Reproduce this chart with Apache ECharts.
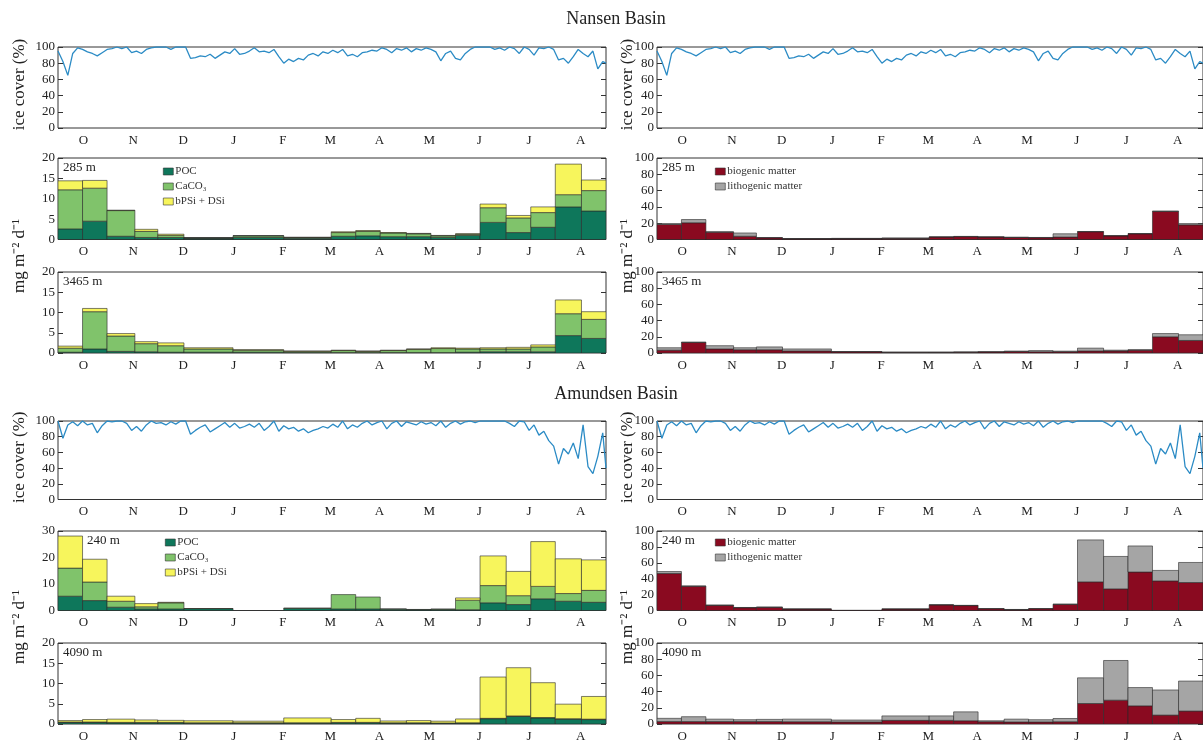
<!DOCTYPE html>
<html>
<head>
<meta charset="utf-8">
<script src="https://cdn.jsdelivr.net/npm/echarts@6/dist/echarts.min.js"></script>
<style>
html, body { margin: 0; padding: 0; background: #fff; }
#chart { width: 1203px; height: 744px; }
</style>
</head>
<body>
<div id="chart"></div>
<script>
// sampling intervals, days since 1 October
const binEdges = [0, 15, 30, 47, 61, 77, 107, 138, 167, 182, 197, 213, 228, 243, 258, 274, 289, 304, 320, 335]
const monthMid = [15.5, 46, 76.5, 107.5, 137.5, 166.5, 196.5, 227, 257.5, 288, 319.5]
const monthLabels = ['O', 'N', 'D', 'J', 'F', 'M', 'A', 'M', 'J', 'J', 'A']

// ice cover (%)
const iceDays = [0, 3, 6, 9, 12, 15, 18, 21, 24, 27, 30, 33, 36, 39, 42, 45, 48, 51, 54, 57,
  60, 63, 66, 69, 72, 75, 78, 81, 84, 87, 90, 93, 96, 99, 102, 105, 108, 111, 114, 117,
  120, 123, 126, 129, 132, 135, 138, 141, 144, 147, 150, 153, 156, 159, 162, 165, 168, 171, 174, 177,
  180, 183, 186, 189, 192, 195, 198, 201, 204, 207, 210, 213, 216, 219, 222, 225, 228, 231, 234, 237,
  240, 243, 246, 249, 252, 255, 258, 261, 264, 267, 270, 273, 276, 279, 282, 285, 288, 291, 294, 297,
  300, 303, 306, 309, 312, 315, 318, 321, 324, 327, 330, 333, 335]
const iceNansen = [95, 82, 65, 92, 99, 97, 94, 92, 89, 93, 97, 98, 100, 98, 100, 93, 95, 92, 97, 99,
  100, 100, 100, 97, 100, 100, 100, 86, 87, 89, 88, 91, 86, 90, 94, 92, 98, 91, 92, 95,
  99, 94, 95, 93, 97, 88, 80, 85, 82, 86, 84, 90, 92, 89, 94, 92, 96, 93, 97, 89,
  91, 88, 93, 94, 96, 95, 99, 97, 93, 98, 96, 99, 94, 98, 96, 99, 97, 94, 83, 92,
  95, 86, 84, 92, 97, 100, 100, 100, 100, 97, 99, 96, 100, 98, 92, 100, 97, 90, 99, 98,
  100, 97, 84, 86, 80, 88, 97, 92, 88, 95, 73, 82, 80]
const iceAmundsen = [100, 78, 95, 99, 94, 100, 95, 97, 85, 94, 100, 99, 100, 100, 97, 88, 93, 87, 95, 100,
  97, 98, 95, 99, 96, 100, 100, 83, 88, 92, 95, 86, 90, 94, 98, 92, 97, 91, 93, 96,
  92, 97, 88, 93, 100, 87, 94, 90, 92, 87, 90, 85, 88, 90, 93, 91, 96, 92, 100, 90,
  95, 92, 97, 100, 95, 98, 100, 90, 97, 100, 93, 99, 97, 95, 99, 96, 98, 94, 100, 92,
  97, 100, 96, 99, 100, 98, 100, 100, 100, 100, 100, 100, 97, 93, 100, 99, 88, 95, 82, 87,
  75, 68, 45, 65, 58, 72, 52, 95, 42, 33, 55, 85, 40]

// mass flux components (mg m-2 d-1), one value per sampling interval
const nansen285POC = [2.6, 4.5, 0.8, 0.5, 0.5, 0.3, 0.5, 0.3, 0.8, 0.9, 0.7, 0.7, 0.5, 1.0, 4.2, 1.7, 3.0, 8.0, 7.0]
const nansen285CaCO3 = [9.6, 8.1, 6.3, 1.5, 0.5, 0.1, 0.4, 0.2, 0.9, 1.1, 0.9, 0.7, 0.4, 0.3, 3.6, 3.6, 3.6, 3.0, 5.0]
const nansen285Si = [2.2, 1.9, 0.1, 0.5, 0.3, 0.05, 0.05, 0.05, 0.2, 0.2, 0.1, 0.1, 0.1, 0.1, 0.9, 0.6, 1.4, 7.5, 2.6]

const nansen3465POC = [0.2, 1.0, 0.4, 0.3, 0.2, 0.2, 0.2, 0.1, 0.1, 0.1, 0.1, 0.1, 0.1, 0.2, 0.3, 0.3, 0.3, 4.3, 3.6]
const nansen3465CaCO3 = [1.0, 9.2, 3.8, 2.0, 1.6, 0.8, 0.5, 0.3, 0.5, 0.3, 0.5, 0.8, 1.0, 0.8, 0.7, 0.7, 1.2, 5.4, 4.7]
const nansen3465Si = [0.5, 0.8, 0.6, 0.5, 0.7, 0.3, 0.1, 0.1, 0.1, 0.1, 0.1, 0.1, 0.2, 0.2, 0.3, 0.4, 0.5, 3.4, 1.9]

const amundsen240POC = [5.4, 3.75, 1.25, 0.6, 0.6, 0.7, 0, 0.8, 0.6, 0.6, 0.5, 0.3, 0.4, 0.3, 2.9, 2.25, 4.4, 3.5, 3.1]
const amundsen240CaCO3 = [10.6, 7.0, 2.25, 0.8, 2.3, 0, 0, 0.1, 5.4, 4.5, 0.1, 0.1, 0.2, 3.6, 6.5, 3.35, 4.7, 2.9, 4.5]
const amundsen240Si = [12.1, 8.6, 1.9, 1.2, 0.2, 0.05, 0, 0, 0, 0, 0, 0, 0, 0.85, 11.2, 9.15, 16.9, 13.1, 11.5]

const amundsen4090POC = [0.4, 0.4, 0.3, 0.3, 0.3, 0.2, 0.2, 0.2, 0.3, 0.3, 0.2, 0.2, 0.2, 0.2, 1.3, 1.9, 1.5, 1.2, 1.1]
const amundsen4090CaCO3 = [0.1, 0.1, 0.1, 0.1, 0.1, 0.1, 0.1, 0.1, 0.1, 0.1, 0.1, 0.1, 0.05, 0.1, 0.1, 0.1, 0.1, 0.1, 0.1]
const amundsen4090Si = [0.35, 0.6, 0.8, 0.6, 0.5, 0.5, 0.4, 1.2, 0.7, 1.0, 0.45, 0.55, 0.45, 0.95, 10.2, 11.9, 8.6, 3.6, 5.6]

const nansen285Bio = [18.5, 20.5, 9, 4, 2, 1, 1.2, 1.5, 3, 3.5, 3, 2.5, 2.2, 3, 9.5, 4.5, 7, 34.5, 18]
const nansen285Litho = [1, 4, 0.4, 4, 0.4, 0.2, 0.2, 0.2, 0.3, 0.3, 0.3, 0.3, 0.3, 4, 0.3, 0.2, 0.3, 0.3, 1.5]
const nansen3465Bio = [3.5, 13, 5, 4, 4, 2.5, 1.5, 0.8, 0.8, 1, 1.3, 1.8, 1.5, 1.5, 2.5, 2.5, 3.5, 20, 15.5]
const nansen3465Litho = [3, 0.5, 4, 2.5, 3.5, 2.5, 0.3, 0.3, 0.3, 0.3, 0.3, 0.6, 1.5, 0.8, 3.5, 1, 0.5, 4, 7]
const amundsen240Bio = [46.5, 30.5, 6.5, 3.5, 4, 1.8, 0.3, 1.8, 7, 6.2, 2.2, 1.1, 2.2, 7.7, 36, 27.2, 48.4, 37.2, 35.2]
const amundsen240Litho = [2.5, 0.3, 0.3, 0.3, 0.3, 0.2, 0, 0.2, 0.3, 0.3, 0.2, 0.2, 0.2, 0.3, 52.8, 40.8, 32.8, 13.2, 25.2]
const amundsen4090Bio = [3, 3, 3, 3, 3, 2.8, 2.5, 4.5, 4.5, 4, 2.8, 2.5, 2.5, 2.8, 25.3, 29.4, 22.4, 11, 16]
const amundsen4090Litho = [4, 6, 3, 2.3, 2.7, 3.2, 2.4, 5.5, 5.5, 11, 1.2, 3.5, 2.8, 4, 31.7, 49, 22.6, 31, 37]

const SERIF = '"Liberation Serif", "Times New Roman", serif'
const colors = {
  POC: '#0e775b',
  CaCO3: '#80c36b',
  Si: '#f7f55c',
  bio: '#8a0a20',
  litho: '#a5a5a5',
  ice: '#2b8bc5'
}
const names = {
  POC: 'POC',
  CaCO3: 'CaCO₃',
  Si: 'bPSi + DSi',
  bio: 'biogenic matter',
  litho: 'lithogenic matter'
}

// panel layout
const leftX = 58
const rightX = 657
const plotW = 548
const rows = [
  { top: 47, height: 81 },
  { top: 158, height: 81.5 },
  { top: 272, height: 81 },
  { top: 421, height: 78.5 },
  { top: 531, height: 79.5 },
  { top: 643, height: 81 }
]

const panels = [
  { row: 0, x: leftX, ice: iceNansen },
  { row: 1, x: leftX, max: 20, interval: 5, depth: '285 m', layers: [['POC', nansen285POC], ['CaCO3', nansen285CaCO3], ['Si', nansen285Si]] },
  { row: 2, x: leftX, max: 20, interval: 5, depth: '3465 m', layers: [['POC', nansen3465POC], ['CaCO3', nansen3465CaCO3], ['Si', nansen3465Si]] },
  { row: 3, x: leftX, ice: iceAmundsen },
  { row: 4, x: leftX, max: 30, interval: 10, depth: '240 m', depthX: 87, layers: [['POC', amundsen240POC], ['CaCO3', amundsen240CaCO3], ['Si', amundsen240Si]] },
  { row: 5, x: leftX, max: 20, interval: 5, depth: '4090 m', layers: [['POC', amundsen4090POC], ['CaCO3', amundsen4090CaCO3], ['Si', amundsen4090Si]] },
  { row: 0, x: rightX, ice: iceNansen },
  { row: 1, x: rightX, max: 100, interval: 20, depth: '285 m', layers: [['bio', nansen285Bio], ['litho', nansen285Litho]] },
  { row: 2, x: rightX, max: 100, interval: 20, depth: '3465 m', layers: [['bio', nansen3465Bio], ['litho', nansen3465Litho]] },
  { row: 3, x: rightX, ice: iceAmundsen },
  { row: 4, x: rightX, max: 100, interval: 20, depth: '240 m', layers: [['bio', amundsen240Bio], ['litho', amundsen240Litho]] },
  { row: 5, x: rightX, max: 100, interval: 20, depth: '4090 m', layers: [['bio', amundsen4090Bio], ['litho', amundsen4090Litho]] }
]

function renderBin(params, api) {
  const p0 = api.coord([api.value(0), api.value(3)])
  const p1 = api.coord([api.value(1), api.value(2)])
  if (api.value(3) - api.value(2) <= 0) return null
  return {
    type: 'rect',
    shape: { x: p0[0], y: p0[1], width: p1[0] - p0[0], height: p1[1] - p0[1] },
    style: { fill: api.visual('color'), stroke: 'rgba(40,40,40,0.75)', lineWidth: 0.8 }
  }
}

const grid = []
const xAxis = []
const yAxis = []
const series = []
const graphic = []

panels.forEach((p, gi) => {
  const r = rows[p.row]
  grid.push({ left: p.x, top: r.top, width: plotW, height: r.height, show: true, borderColor: '#333', borderWidth: 1 })
  xAxis.push({
    gridIndex: gi, type: 'value', min: 0, max: 335,
    axisLine: { show: false }, axisTick: { show: false }, splitLine: { show: false },
    axisLabel: {
      customValues: monthMid,
      formatter: v => monthLabels[monthMid.indexOf(v)],
      margin: 6, color: '#222', fontFamily: SERIF, fontSize: 13
    }
  })
  const max = p.ice ? 100 : p.max
  const interval = p.ice ? 20 : p.interval
  const tick = { show: true, inside: true, length: 5, lineStyle: { color: '#333' } }
  yAxis.push({
    gridIndex: gi, type: 'value', min: 0, max: max, interval: interval,
    axisLine: { show: false }, splitLine: { show: false }, axisTick: tick,
    axisLabel: { margin: 3, color: '#222', fontFamily: SERIF, fontSize: 13 }
  })
  yAxis.push({
    gridIndex: gi, type: 'value', position: 'right', min: 0, max: max, interval: interval,
    axisLine: { show: false }, splitLine: { show: false }, axisTick: tick,
    axisLabel: { show: false }
  })
  if (p.ice) {
    series.push({
      type: 'line', xAxisIndex: gi, yAxisIndex: gi * 2,
      data: iceDays.map((d, i) => [d, p.ice[i]]),
      showSymbol: false, lineStyle: { color: colors.ice, width: 1.3 }, z: 3
    })
    graphic.push({
      type: 'text', x: p.x === leftX ? 20 : 628, y: r.top + r.height / 2 - 3, rotation: Math.PI / 2,
      style: { text: 'ice cover (%)', font: '17px ' + SERIF, fill: '#222', align: 'center', verticalAlign: 'middle' }
    })
  } else {
    const base = p.layers[0][1].map(() => 0)
    p.layers.forEach(([key, arr]) => {
      const data = arr.map((v, i) => {
        const item = [binEdges[i], binEdges[i + 1], base[i], base[i] + v]
        base[i] += v
        return item
      })
      series.push({
        type: 'custom', name: names[key], xAxisIndex: gi, yAxisIndex: gi * 2,
        renderItem: renderBin, itemStyle: { color: colors[key] },
        encode: { x: [0, 1], y: [2, 3] }, data: data, clip: true
      })
    })
    graphic.push({
      type: 'text', x: p.x + (p.depthX ? p.depthX - leftX : 5), y: r.top + 10,
      style: { text: p.depth, font: '13px ' + SERIF, fill: '#222', align: 'left', verticalAlign: 'middle' }
    })
  }
})

// shared y-axis titles for the flux panels
;[[20, 256], [628, 256], [20, 627], [628, 627]].forEach(([x, y]) => {
  graphic.push({
    type: 'text', x: x, y: y, rotation: Math.PI / 2,
    style: { text: 'mg m⁻² d⁻¹', font: '17px ' + SERIF, fill: '#222', align: 'center', verticalAlign: 'middle' }
  })
})
graphic.push({ type: 'text', x: 616, y: 19, style: { text: 'Nansen Basin', font: '18px ' + SERIF, fill: '#222', align: 'center', verticalAlign: 'middle' } })
graphic.push({ type: 'text', x: 616, y: 394, style: { text: 'Amundsen Basin', font: '18px ' + SERIF, fill: '#222', align: 'center', verticalAlign: 'middle' } })

function legendAt(left, top, data) {
  return {
    left: left, top: top, orient: 'vertical', data: data, icon: 'rect', selectedMode: false,
    itemWidth: 10, itemHeight: 7, itemGap: 4, padding: 0,
    itemStyle: { borderColor: '#333', borderWidth: 0.6 },
    textStyle: { fontFamily: SERIF, fontSize: 11, color: '#333', lineHeight: 9, padding: [0, 0, 0, -3] }
  }
}

const chart = echarts.init(document.getElementById('chart'))
chart.setOption({
  animation: false,
  backgroundColor: '#fff',
  grid: grid,
  xAxis: xAxis,
  yAxis: yAxis,
  legend: [
    legendAt(163, 166, [names.POC, names.CaCO3, names.Si]),
    legendAt(715, 166, [names.bio, names.litho]),
    legendAt(165, 537, [names.POC, names.CaCO3, names.Si]),
    legendAt(715, 537, [names.bio, names.litho])
  ],
  graphic: graphic,
  series: series
})
</script>
</body>
</html>
